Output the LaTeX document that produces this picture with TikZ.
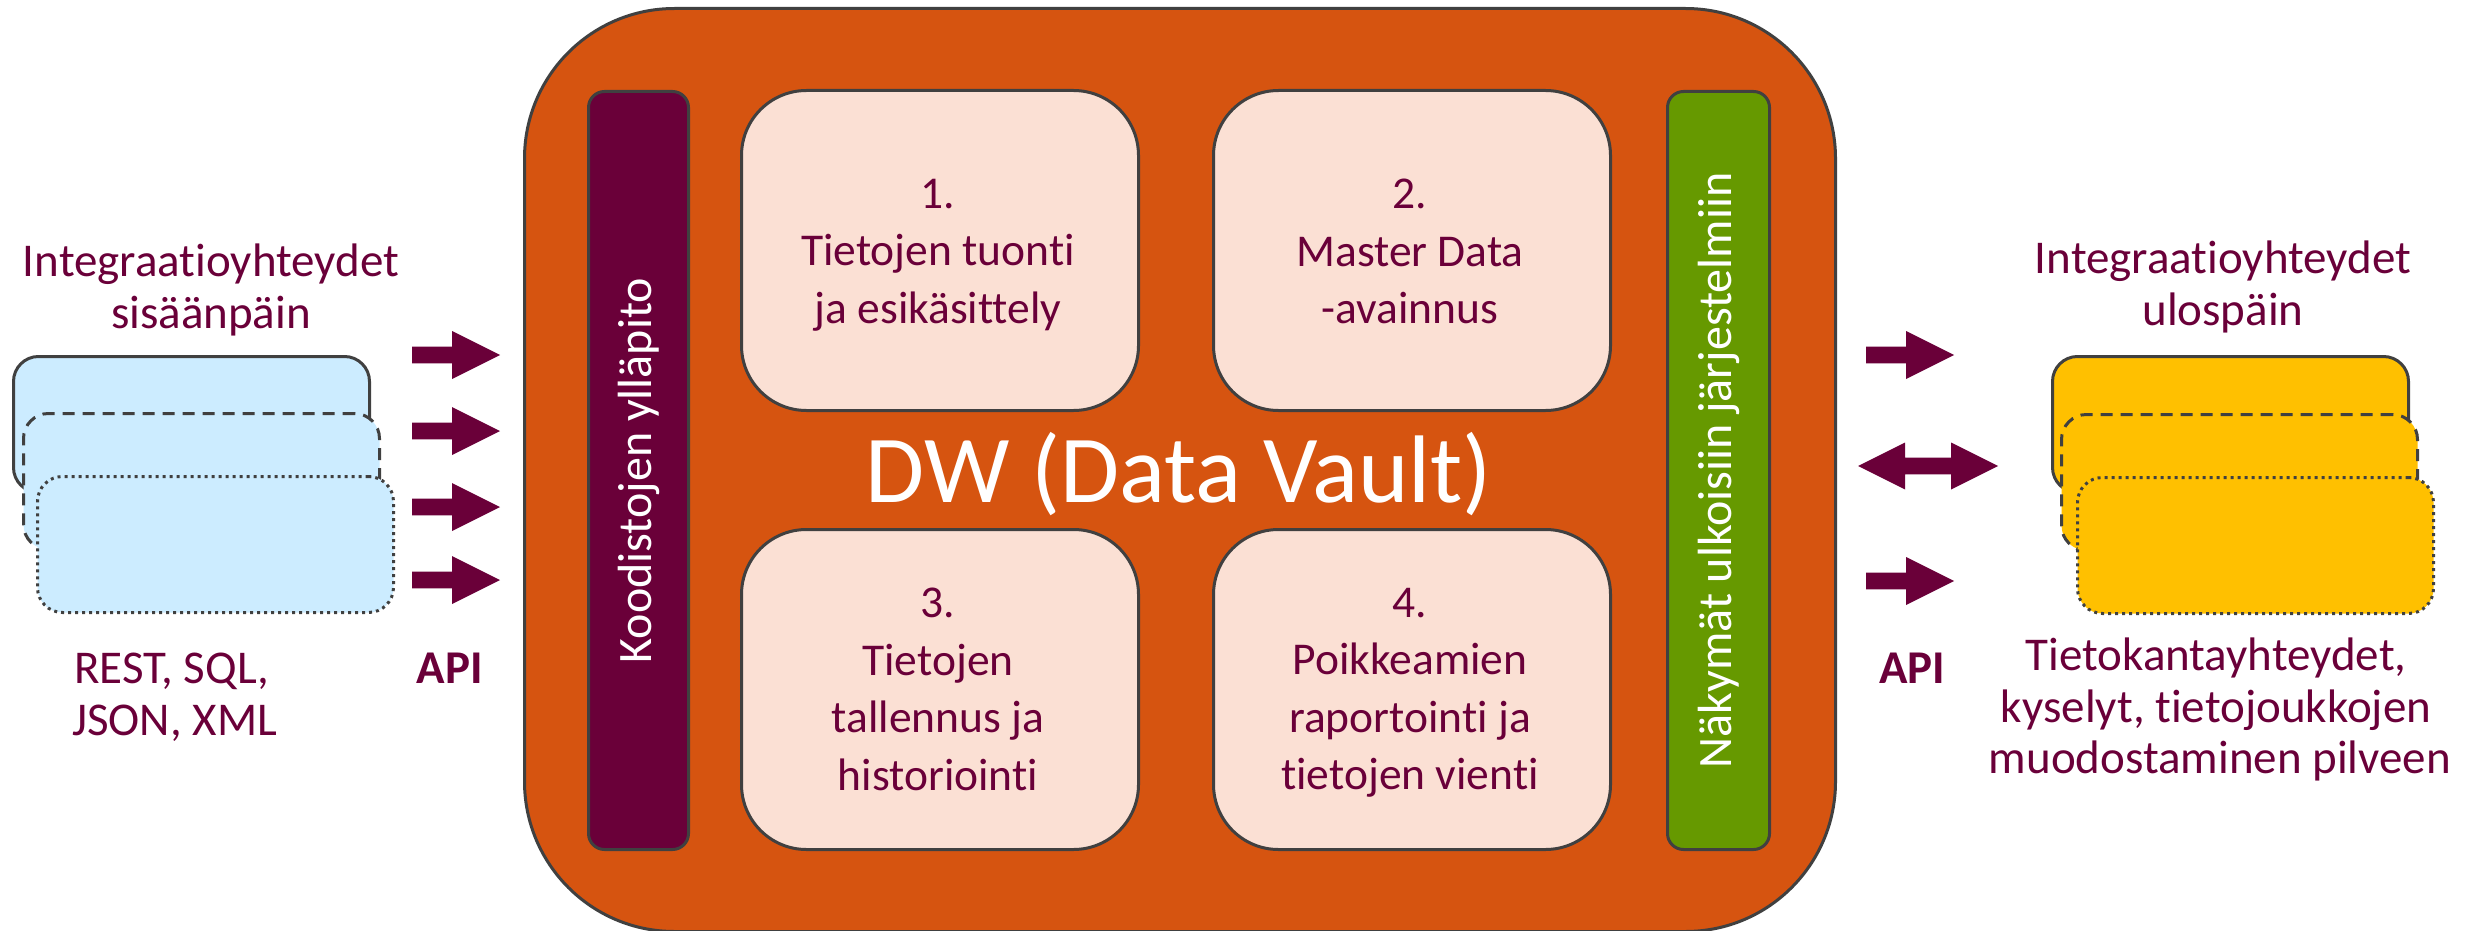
\documentclass[tikz,border=0pt]{standalone}
\usepackage{fontspec}
\setmainfont{Carlito}[Ligatures={NoCommon}]
\definecolor{dworange}{HTML}{D65410}
\definecolor{peach}{HTML}{FBE0D4}
\definecolor{deep}{HTML}{6A0039}
\definecolor{leaf}{HTML}{669900}
\definecolor{sky}{HTML}{CCECFF}
\definecolor{gold}{HTML}{FFC000}
\definecolor{bord}{HTML}{404040}
\tikzset{
  txt/.style={text=deep, font=\fontsize{47}{52}\selectfont, inner sep=0},
  boxtxt/.style={text=deep, font=\fontsize{45.5}{57.5}\selectfont, inner sep=0, align=center, anchor=north},
  bartxt/.style={rotate=90, text=white, font=\fontsize{48}{52}\selectfont, inner sep=0},
  rect/.style={anchor=north west, inner sep=0, line width=3pt, draw=bord},
  stepbox/.style={rect, fill=peach, rounded corners=65pt, minimum width=397pt, minimum height=320pt},
  barbox/.style={rect, rounded corners=16pt, minimum height=758pt},
  srcbox/.style={rect, rounded corners=25pt, minimum width=356pt, minimum height=136pt},
  pics/rarrow/.style={code={\fill[deep] (0,-8.3) -- (40,-8.3) -- (40,-24) -- (88,0) -- (40,24) -- (40,8.3) -- (0,8.3) -- cycle;}},
  pics/darrow/.style={code={\fill[deep] (0,0) -- (47,-23.5) -- (47,-8.3) -- (93,-8.3) -- (93,-23.5) -- (140,0) -- (93,23.5) -- (93,8.3) -- (47,8.3) -- (47,23.5) -- cycle;}}
}
\begin{document}
\begin{tikzpicture}[x=1pt,y=-1pt]
\useasboundingbox (0,0) rectangle (2468,931);
% main container
\node[rect, fill=dworange, rounded corners=150pt, minimum width=1311pt, minimum height=923pt] (dw) at (523,7) {};
% side bars
\node[barbox, fill=deep, minimum width=100pt] (codes) at (587,90) {};
\node[barbox, fill=leaf, minimum width=102pt] (views) at (1666,90) {};
\node[bartxt] (codestxt) at (codes.center) {Koodistojen ylläpito};
\node[bartxt] (viewstxt) at (views.center) {Näkymät ulkoisiin järjestelmiin};
% step boxes
\node[stepbox] (s1) at (740,89) {};
\node[stepbox] (s2) at (1212,89) {};
\node[stepbox] (s3) at (740,528) {};
\node[stepbox] (s4) at (1212,528) {};
\node[boxtxt] (t1) at (938,179) {1.\\Tietojen tuonti\\ja esikäsittely};
\node[boxtxt] (t2) at (1410,179) {2.\\Master Data\\-avainnus};
\node[boxtxt] (t3) at (938,588) {3.\\Tietojen\\tallennus ja\\historiointi};
\node[boxtxt] (t4) at (1410,588) {4.\\Poikkeamien\\raportointi ja\\tietojen vienti};
\node[anchor=base, text=white, font=\fontsize{96}{110}\selectfont, inner sep=0] (dwtxt) at (1179,502) {DW (Data Vault)};
% input sources
\node[srcbox, fill=sky] (in1) at (12,355) {};
\node[srcbox, fill=sky, dash pattern=on 12pt off 8pt] (in2) at (22,412) {};
\node[srcbox, fill=sky, dash pattern=on 3pt off 4pt] (in3) at (36,475) {};
% output targets
\node[srcbox, fill=gold] (out1) at (2051,355) {};
\node[srcbox, fill=gold, dash pattern=on 12pt off 8pt] (out2) at (2060,413) {};
\node[srcbox, fill=gold, dash pattern=on 3pt off 4pt] (out3) at (2076,476) {};
% arrows
\pic at (412,355) {rarrow};
\pic at (412,431) {rarrow};
\pic at (412,507) {rarrow};
\pic at (412,580) {rarrow};
\pic at (1866,355) {rarrow};
\pic at (1858,466) {darrow};
\pic at (1866,581) {rarrow};
% texts
\node[txt, anchor=base] (inl1) at (211,276) {Integraatioyhteydet};
\node[txt, anchor=base] (inl2) at (211,328) {sisäänpäin};
\node[txt, anchor=base] (outl1) at (2223,273) {Integraatioyhteydet};
\node[txt, anchor=base] (outl2) at (2223,325) {ulospäin};
\node[txt, anchor=base west] (fmt1) at (74,683) {REST, SQL,};
\node[txt, anchor=base west] (fmt2) at (72,735) {JSON, XML};
\node[txt, anchor=base, font=\fontsize{47}{52}\selectfont\bfseries] (apil) at (450,683) {API};
\node[txt, anchor=base, font=\fontsize{47}{52}\selectfont\bfseries] (apir) at (1912,683) {API};
\node[txt, anchor=base] (desc1) at (2216,670) {Tietokantayhteydet,};
\node[txt, anchor=base] (desc2) at (2216,722) {kyselyt, tietojoukkojen};
\node[txt, anchor=base] (desc3) at (2220,773) {muodostaminen pilveen};
\end{tikzpicture}
\end{document}
